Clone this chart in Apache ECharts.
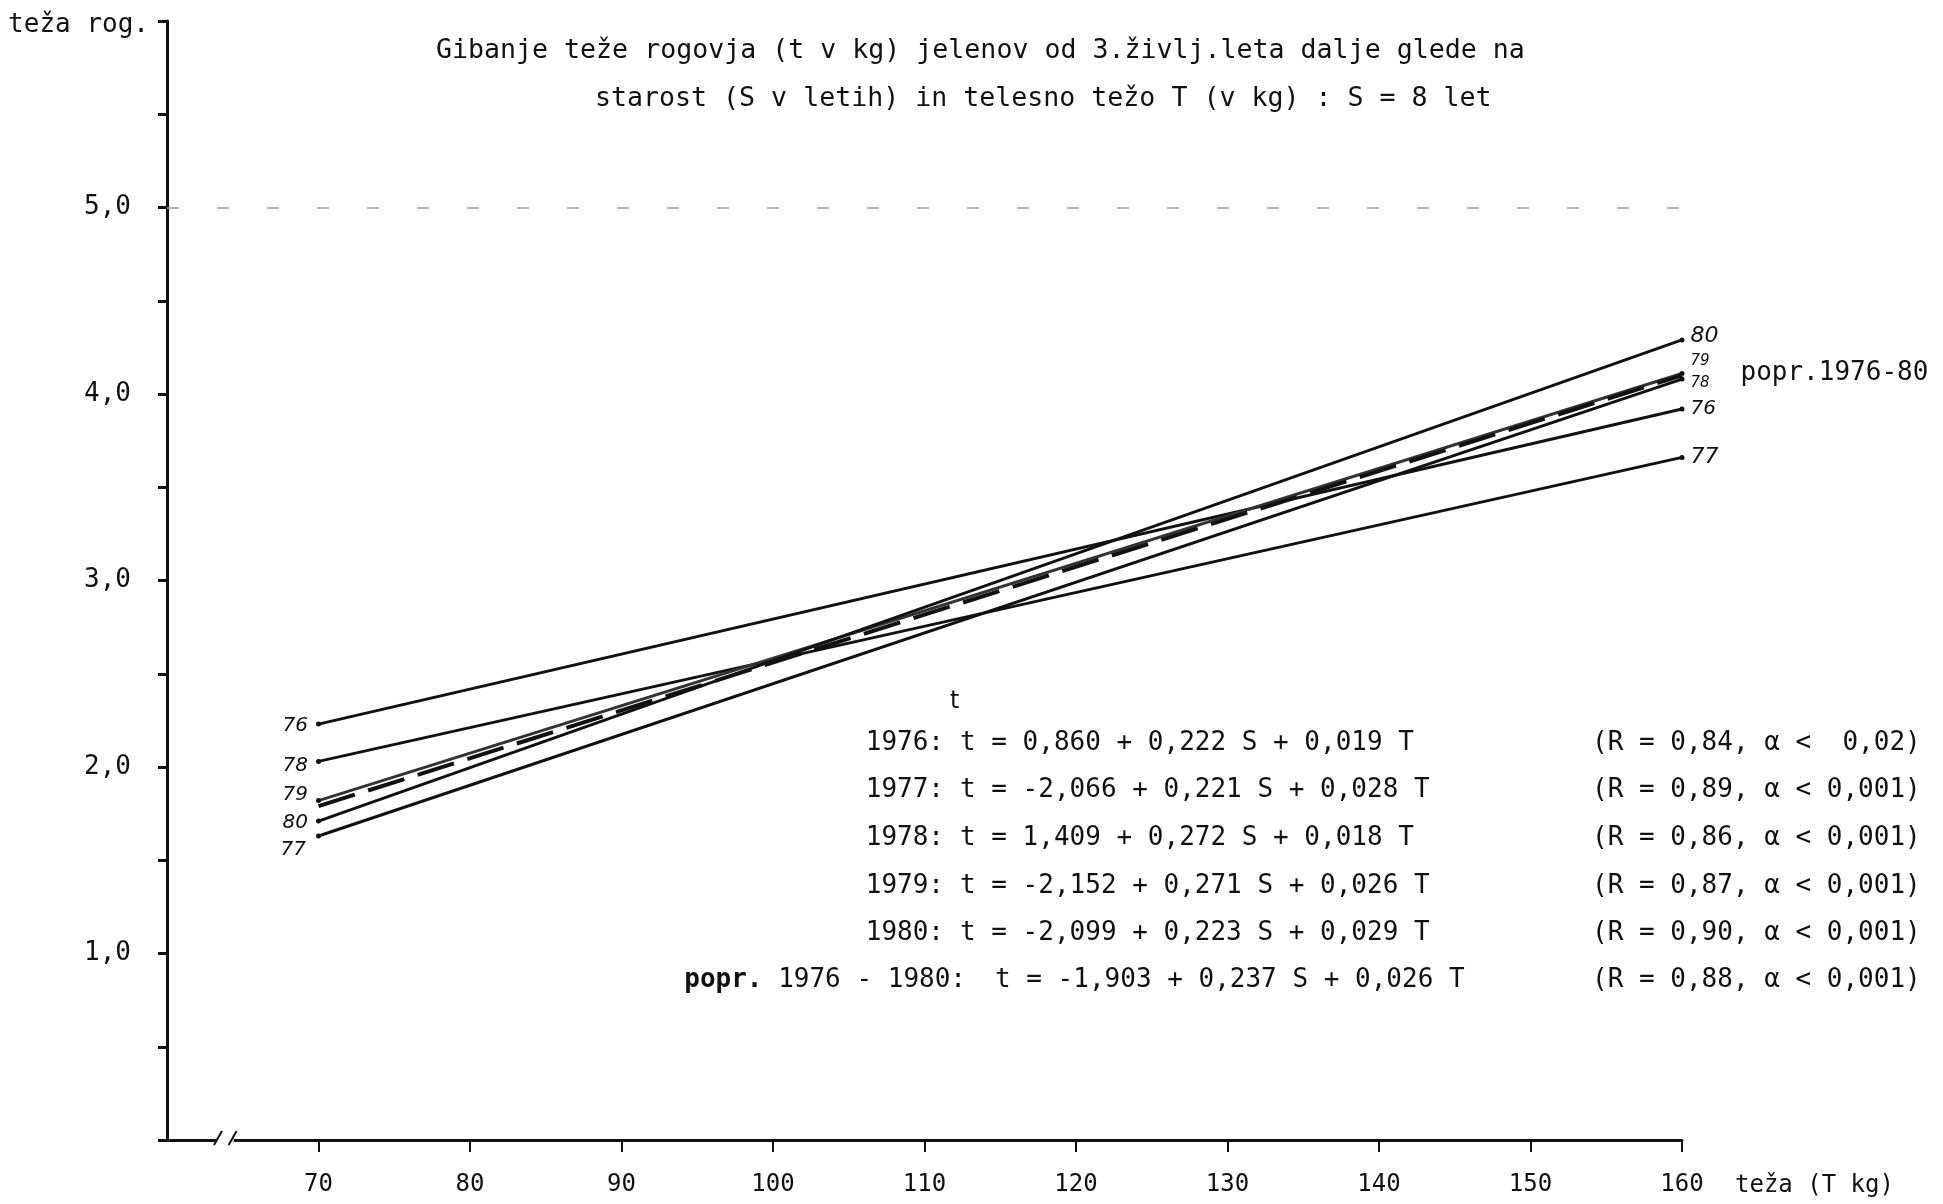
<!DOCTYPE html>
<html><head><meta charset="utf-8">
<script src="https://cdn.jsdelivr.net/npm/echarts@6/dist/echarts.min.js"></script>
<style>html,body{margin:0;padding:0;background:#fff}#c{width:1943px;height:1204px}</style>
</head><body><div id="c"></div>
<script>
// ---- data ----
const xEnds = [70, 160];                 // telesna teža T (kg) at line ends
const line76 = [2.23, 3.92];
const line78 = [2.03, 3.66];
const line79 = [1.82, 4.11];
const line80 = [1.71, 4.29];
const line77 = [1.63, 4.08];
const linePopr = [1.79, 4.10];
const leftLabels = ['76', '78', '79', '80', '77'];
const rightLabels = ['76', '77', '79', '80', '78'];
const poprLabel = 'popr.1976-80';
const xTickLabels = [70, 80, 90, 100, 110, 120, 130, 140, 150, 160];
const yTickLabels = [1, 2, 3, 4, 5];
const titleLines = [
  'Gibanje teže rogovja (t v kg) jelenov od 3.življ.leta dalje glede na',
  'starost (S v letih) in telesno težo T (v kg) : S = 8 let'
];
const eqYears = ['1976:', '1977:', '1978:', '1979:', '1980:', 'popr. 1976 - 1980:'];
const eqFormulas = [
  't = 0,860 + 0,222 S + 0,019 T',
  't = -2,066 + 0,221 S + 0,028 T',
  't = 1,409 + 0,272 S + 0,018 T',
  't = -2,152 + 0,271 S + 0,026 T',
  't = -2,099 + 0,223 S + 0,029 T',
  't = -1,903 + 0,237 S + 0,026 T'
];
const eqStats = [
  '(R = 0,84, α <  0,02)',
  '(R = 0,89, α < 0,001)',
  '(R = 0,86, α < 0,001)',
  '(R = 0,87, α < 0,001)',
  '(R = 0,90, α < 0,001)',
  '(R = 0,88, α < 0,001)'
];

const MONO = '"DejaVu Sans Mono", "Liberation Mono", monospace';
const HAND = '"DejaVu Sans", sans-serif';

const chart = echarts.init(document.getElementById('c'), null, {renderer: 'canvas'});

const lines = [line76, line78, line79, line80, line77];
const leftOffsets = [[0, 2], [0, 4], [0, -6], [0, 2], [-2, 14]];
const rightOffsets = [[0, 0], [0, 0], [0, -12], [0, -4], [0, 4]];
const rightSizes = [20, 22, 15, 22, 15];

const series = lines.map((vals, i) => ({
  type: 'line',
  symbol: 'circle',
  symbolSize: 5,
  itemStyle: {color: '#111'},
  lineStyle: {color: i === 2 ? '#333' : '#111', width: 3},
  data: [
    {value: [xEnds[0], vals[0]], label: {show: true, position: 'left', distance: 8,
      offset: leftOffsets[i], formatter: leftLabels[i], fontFamily: HAND, fontSize: 20,
      fontStyle: 'italic', color: '#111'}},
    {value: [xEnds[1], vals[1]], label: {show: true, position: 'right', distance: 6,
      offset: rightOffsets[i], formatter: rightLabels[i], fontFamily: HAND,
      fontSize: rightSizes[i], fontStyle: 'italic', color: '#111'}}
  ],
  z: 3
}));

series.push({
  type: 'line',
  symbol: 'none',
  lineStyle: {color: '#111', width: 4, type: [38, 14]},
  data: [
    [xEnds[0], linePopr[0]],
    {value: [xEnds[1], linePopr[1]], symbol: 'circle', symbolSize: 1,
      label: {show: true, position: 'right', distance: 58, offset: [0, -2],
        formatter: poprLabel, fontFamily: MONO, fontSize: 26, color: '#111'}}
  ],
  markLine: {
    silent: true, symbol: 'none', label: {show: false},
    lineStyle: {color: '#a0a0a0', width: 1.5, type: [12, 38]},
    data: [{yAxis: 5}]
  },
  z: 4
});

const graphics = [];
titleLines.forEach((t, i) => {
  graphics.push({type: 'text', left: i === 0 ? 436 : 595, top: i === 0 ? 38 : 86,
    style: {text: t, font: '26.6px ' + MONO, fill: '#111'}});
});
const rowY = [743, 790, 838, 886, 933, 980];
eqYears.forEach((y, i) => {
  const last = i === eqYears.length - 1;
  if (last) {
    graphics.push({type: 'text', x: 966, y: rowY[i],
      style: {text: '{b|popr.} 1976 - 1980:', font: '26px ' + MONO, fill: '#111', align: 'right', verticalAlign: 'middle',
        rich: {b: {fontFamily: MONO, fontSize: 26, fontWeight: 'bold', fill: '#111'}}}});
  } else {
    graphics.push({type: 'text', x: 944, y: rowY[i],
      style: {text: y, font: '26px ' + MONO, fill: '#111', align: 'right', verticalAlign: 'middle'}});
  }
  graphics.push({type: 'text', x: last ? 995 : 960, y: rowY[i],
    style: {text: eqFormulas[i], font: '26px ' + MONO, fill: '#111', verticalAlign: 'middle'}});
  graphics.push({type: 'text', x: 1592, y: rowY[i],
    style: {text: eqStats[i], font: '26px ' + MONO, fill: '#111', verticalAlign: 'middle'}});
});
graphics.push({type: 'text', x: 950, y: 702, style: {text: 't', font: '24px ' + HAND, fill: '#111', verticalAlign: 'middle'}});

chart.setOption({
  animation: false,
  backgroundColor: '#fff',
  grid: {left: 167, right: 261, top: 21, bottom: 64, containLabel: false},
  xAxis: {
    type: 'value', min: 60, max: 160, interval: 10,
    name: 'teža (T kg)', nameLocation: 'end', nameGap: 53,
    nameTextStyle: {fontFamily: MONO, fontSize: 24, color: '#111', verticalAlign: 'top', padding: [34, 0, 0, 0]},
    axisLine: {lineStyle: {color: '#111', width: 3}},
    axisTick: {show: true, length: 12, customValues: xTickLabels, lineStyle: {color: '#111', width: 2}},
    axisLabel: {margin: 33, fontFamily: MONO, fontSize: 24, color: '#111', customValues: xTickLabels,
      formatter: v => String(v)},
    splitLine: {show: false}
  },
  yAxis: {
    type: 'value', min: 0, max: 6, interval: 0.5,
    name: 'teža rog.', nameLocation: 'end', nameGap: -4,
    nameTextStyle: {fontFamily: MONO, fontSize: 26, color: '#111', align: 'right', verticalAlign: 'middle', padding: [0, 18, 0, 0]},
    axisLine: {lineStyle: {color: '#111', width: 3}},
    axisTick: {show: true, length: 9, lineStyle: {color: '#111', width: 3}},
    axisLabel: {margin: 36, fontFamily: MONO, fontSize: 26, color: '#111',
      formatter: v => yTickLabels.indexOf(v) >= 0 ? v.toFixed(1).replace('.', ',') : ''},
    splitLine: {show: false}
  },
  series: series,
  graphic: graphics
});

// axis break mark on the x axis near its start
const b0 = chart.convertToPixel({gridIndex: 0}, [63.3, 0]);
const b1 = chart.convertToPixel({gridIndex: 0}, [64.4, 0]);
graphics.push({type: 'rect', shape: {x: b0[0], y: b0[1] - 3, width: b1[0] - b0[0], height: 6}, style: {fill: '#fff'}, z: 100});
graphics.push({type: 'line', shape: {x1: b0[0] - 3, y1: b0[1] + 5, x2: b0[0] + 5, y2: b0[1] - 9}, style: {stroke: '#111', lineWidth: 2}, z: 101});
graphics.push({type: 'line', shape: {x1: b1[0] - 5, y1: b1[1] + 5, x2: b1[0] + 3, y2: b1[1] - 9}, style: {stroke: '#111', lineWidth: 2}, z: 101});
chart.setOption({graphic: graphics});
</script>
</body></html>
